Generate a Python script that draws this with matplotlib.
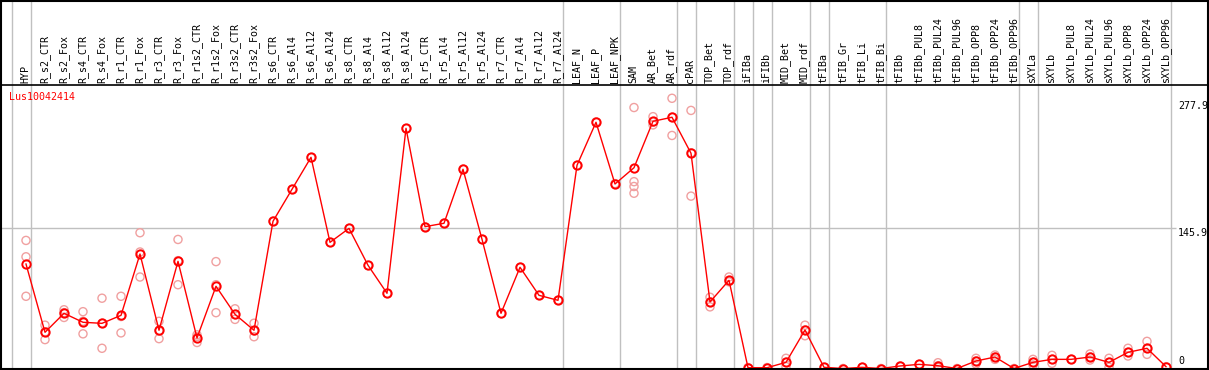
import numpy as np
import matplotlib
matplotlib.use("Agg")
import matplotlib.pyplot as plt
import matplotlib.transforms as mtransforms

# Categories (columns)
labels = ["HYP", "R_s2_CTR", "R_s2_Fox", "R_s4_CTR", "R_s4_Fox", "R_r1_CTR", "R_r1_Fox",
          "R_r3_CTR", "R_r3_Fox", "R_r1s2_CTR", "R_r1s2_Fox", "R_r3s2_CTR", "R_r3s2_Fox",
          "R_s6_CTR", "R_s6_Al4", "R_s6_Al12", "R_s6_Al24", "R_s8_CTR", "R_s8_Al4",
          "R_s8_Al12", "R_s8_Al24", "R_r5_CTR", "R_r5_Al4", "R_r5_Al12", "R_r5_Al24",
          "R_r7_CTR", "R_r7_Al4", "R_r7_Al12", "R_r7_Al24", "LEAF_N", "LEAF_P", "LEAF_NPK",
          "SAM", "AR_Bet", "AR_rdf", "cPAR", "TOP_Bet", "TOP_rdf", "iFIBa", "iFIBb",
          "MID_Bet", "MID_rdf", "tFIBa", "tFIB_Gr", "tFIB_Li", "tFIB_Bi", "tFIBb",
          "tFIBb_PUL8", "tFIBb_PUL24", "tFIBb_PUL96", "tFIBb_OPP8", "tFIBb_OPP24",
          "tFIBb_OPP96", "sXYLa", "sXYLb", "sXYLb_PUL8", "sXYLb_PUL24", "sXYLb_PUL96",
          "sXYLb_OPP8", "sXYLb_OPP24", "sXYLb_OPP96"]

# mean expression per column
means = [108.5, 37.6, 57.3, 48.0, 46.9, 55.2, 118.9, 39.7, 111.3, 31.7, 85.4, 56.3, 39.7,
         152.9, 186.1, 219.3, 131.0, 145.5, 107.2, 78.1, 249.4,
         147.3, 150.8, 206.9, 134.2, 57.3, 105.1, 76.0, 70.8,
         211.0, 255.7, 191.6, 208.5, 256.7, 260.9, 223.5, 69.1, 91.6,
         0.8, 0.8, 6.4, 40.0, 1.2, 0.0, 1.2, 0.0, 2.6, 4.3, 2.9, 0.0, 7.8, 11.9, 0.0,
         6.4, 9.5, 9.5, 11.9, 6.4, 16.8, 21.0, 1.9]

# individual replicates
reps = [[133, 116, 75], [45, 30, 38], [61, 53, 58], [59, 36, 49], [73, 21, 47],
        [75, 37, 54], [141, 95, 121], [49, 31, 39], [134, 87, 112], [35, 27, 33],
        [111, 58, 87], [62, 51, 56], [47, 33, 39],
        [153], [186], [219], [131], [145.5], [107], [78], [249],
        [147], [151], [207], [134], [57], [105], [76], [71],
        [211], [256], [192], [271, 194, 189, 182], [261.5, 253, 256], [280.6, 242, 261],
        [268, 179, 224], [74, 64, 69], [95, 90, 91],
        [1], [1], [10.6, 2, 6.5], [45, 34, 40], [1.2], [0], [1.2], [0], [2.6], [4.3],
        [6, 1, 2.9], [0], [10.6, 4.7, 7.8], [14.0, 9.5, 11.9], [0],
        [9.5, 3.6, 6.4], [13.7, 5.4, 9.5], [9.5], [15.1, 8.8, 11.9], [10.6, 1.2, 6.4],
        [21.0, 13.0, 16.8], [28.2, 14.7, 21.0], [1.9]]

# group separators (after these column indices)
group_ends = [-1, 0, 28, 31, 34, 35, 37, 38, 39, 41, 42, 45, 52, 53, 60]

y_ticks = [277.9, 145.9, 0]
title = "Lus10042414"

# pixel layout
W, H = 1209, 370
X0, PITCH = 26, 19
Y0, PXU = 368.5, 0.963

fig = plt.figure(figsize=(W / 100, H / 100), dpi=100)
ax = fig.add_axes([0, 0, 1, 1])
ax.set_xlim(-X0 / PITCH, (W - X0) / PITCH)
ax.set_ylim((Y0 - H) / PXU, Y0 / PXU)
ax.axis("off")

mono = "DejaVu Sans Mono"
fs = 7.2
xs = np.arange(len(labels))
right_x = (1170 - X0) / PITCH

# separators and grid line
for g in group_ends:
    ax.axvline(g + 0.24, color="#c0c0c0", lw=1, zorder=0)
ax.hlines(145.9, ax.get_xlim()[0], (1176 - X0) / PITCH, color="#c0c0c0", lw=1, zorder=0)

# header line and outer frame
ax.axhline((Y0 - 85) / PXU, color="black", lw=1.2)
fig.patches.append(plt.Rectangle((0.0005, 0.002), 0.9985, 0.996, transform=fig.transFigure,
                                 fill=False, ec="black", lw=1.5))

trans = mtransforms.blended_transform_factory(ax.transData, ax.transAxes)
for i, lab in enumerate(labels):
    ax.text(i - 0.03, 1 - 83 / H, lab, rotation=90, ha="center", va="bottom",
            fontsize=fs, family=mono, transform=trans)

# replicates
for i, r in enumerate(reps):
    ax.scatter([i] * len(r), r, s=34, facecolors="none", edgecolors="#f0a0a0",
               linewidths=1.0, zorder=2, clip_on=False)

# means
ax.plot(xs, means, color="red", lw=1, marker="o", ms=6, mfc="none", mec="red",
        mew=1.4, zorder=3, clip_on=False)

# y labels
for v in y_ticks:
    if v == 0:
        ax.annotate("0", (right_x, v), xytext=(8, 3), textcoords="offset pixels",
                    ha="left", va="bottom", fontsize=fs, family=mono)
    else:
        ax.annotate(f"{v}", (right_x, v), xytext=(8, 0), textcoords="offset pixels",
                    ha="left", va="top", fontsize=fs, family=mono)

fig.text(9 / W, 1 - 97 / H, title, color="red", fontsize=fs, family=mono,
         ha="left", va="center")

fig.savefig("out.png", dpi=100)
